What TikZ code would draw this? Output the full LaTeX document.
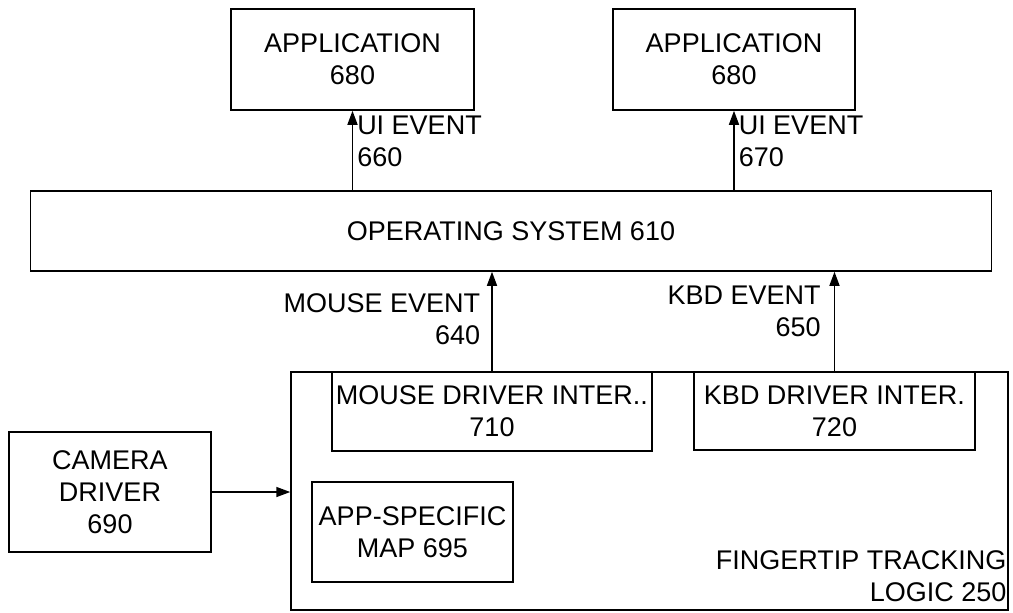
\documentclass[tikz,border=0pt]{standalone}
\usepackage{fontspec}
\setmainfont{Liberation Sans}
\usetikzlibrary{arrows.meta}

\begin{document}
\begin{tikzpicture}[x=0.5pt,y=-0.5pt,
  box/.style={draw,line width=.75pt,align=center,inner sep=0pt,font=\fontsize{13.5}{16}\selectfont},
  evt/.style={->,>={Triangle[length=7pt,width=5pt]},line width=.75pt},
  lbl/.style={inner sep=2pt,font=\fontsize{13.5}{16}\selectfont}]

\useasboundingbox (0,0) rectangle (1013,612);

% Nodes
\node[box,minimum width=121.5pt,minimum height=50.5pt] (app-left) at (352.5,59.5) {APPLICATION\\680};
\node[box,minimum width=121pt,minimum height=50.5pt] (app-right) at (734,59.5) {APPLICATION\\680};
\node[box,minimum width=480.5pt,minimum height=40pt] (os) at (511,231) {OPERATING SYSTEM 610};
\node[box,minimum width=101pt,minimum height=60pt] (camera) at (110,492) {CAMERA\\DRIVER\\690};

% The tracking logic
\node[box,minimum width=358.5pt,minimum height=119pt] (tracking) at (649.5,491) {};
\node[box,minimum width=160pt,minimum height=39.5pt] (mouse-drv) at (492,411.5) {MOUSE DRIVER INTER..\\710};
\node[box,minimum width=140.5pt,minimum height=39pt] (kbd-drv) at (834.5,411) {KBD DRIVER INTER.\\720};
\node[box,minimum width=100.5pt,minimum height=50pt] (app-map) at (412.5,532) {APP-SPECIFIC\\MAP 695};
\node[lbl,align=right,anchor=south east,inner xsep=1pt,inner ysep=4.5pt] (tracking-lbl) at (tracking.south east) {FINGERTIP TRACKING\\LOGIC 250};

% The UI events
\draw[evt] (os.north -| app-left.south) -- node[lbl,align=left,anchor=north west,pos=1] {UI EVENT\\660} (app-left.south);
\draw[evt] (os.north -| app-right.south) -- node[lbl,align=left,anchor=north west,pos=1] {UI EVENT\\670} (app-right.south);

% The driver events
\draw[evt] (mouse-drv.north) -- node[lbl,align=right,anchor=east,inner xsep=5.5pt,pos=.52] {MOUSE EVENT\\640} (os.south -| mouse-drv.north);
\draw[evt] (kbd-drv.north) -- node[lbl,align=right,anchor=east,inner xsep=6.5pt,pos=.6] {KBD EVENT\\650} (os.south -| kbd-drv.north);

% Camera input
\draw[evt] (camera.east) -- (tracking.west |- camera.east);

\end{tikzpicture}
\end{document}
